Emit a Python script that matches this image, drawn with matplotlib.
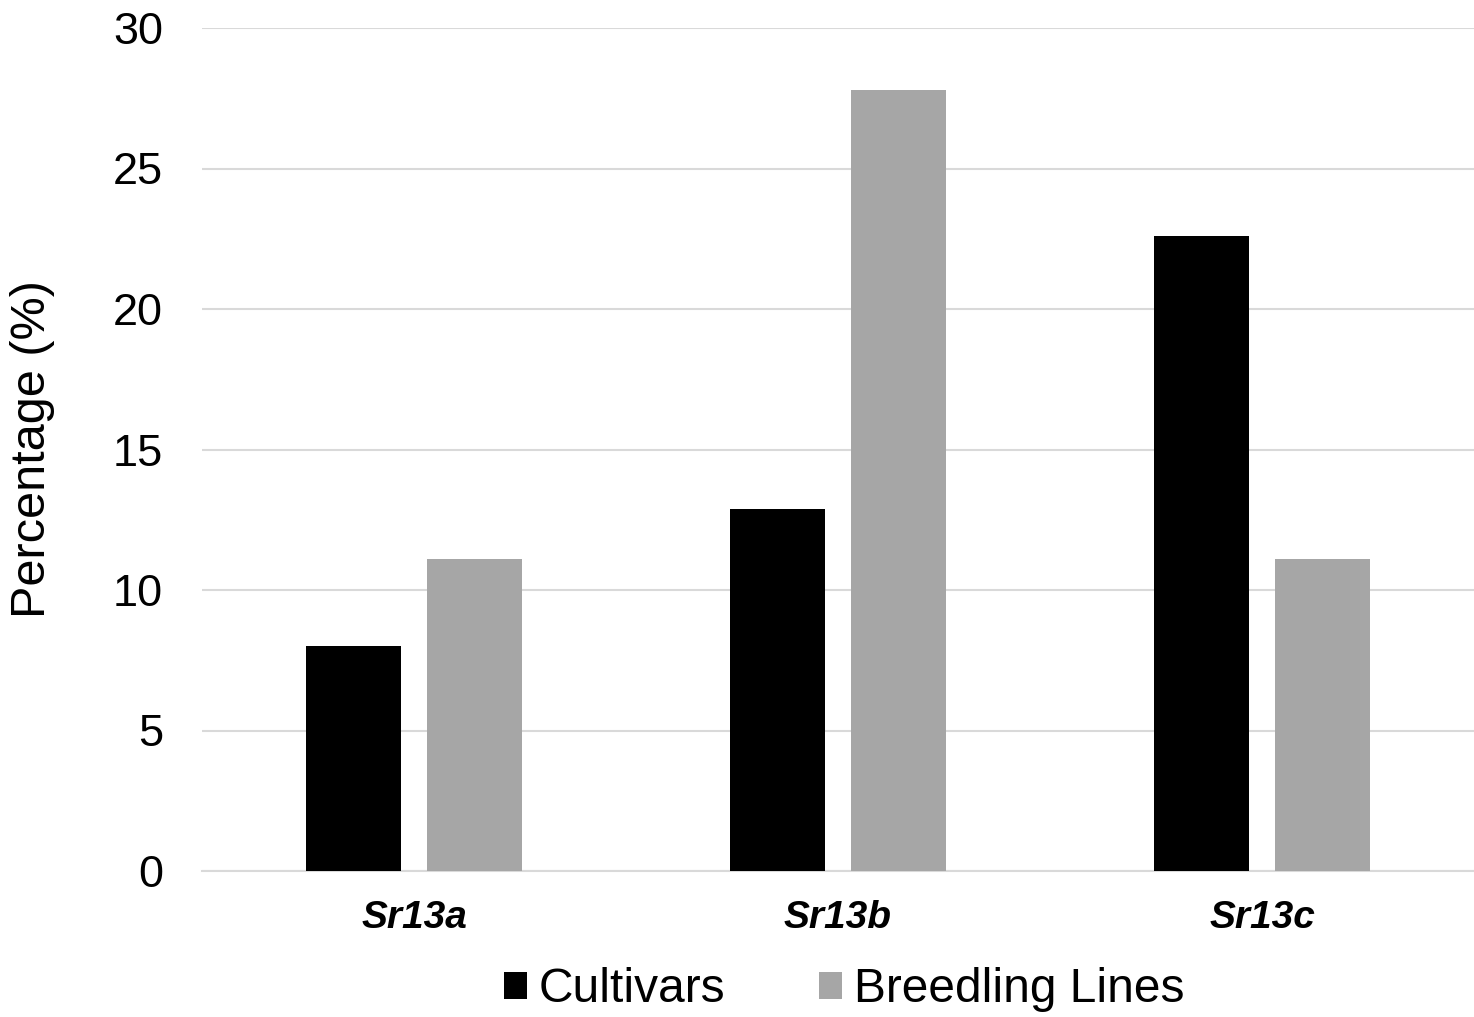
import numpy as np
import matplotlib
matplotlib.use("Agg")
import matplotlib.pyplot as plt

plt.rcParams['font.family'] = ['Liberation Sans', 'DejaVu Sans']

# data
genes = ['Sr13a', 'Sr13b', 'Sr13c']
cultivars = [8.0, 12.9, 22.6]
breeding = [11.1, 27.8, 11.1]
y_ticks = [0, 5, 10, 15, 20, 25, 30]

fig = plt.figure(figsize=(14.74, 10.17), dpi=100)
ax = fig.add_axes([202/1474, 1-871/1017, 1272/1474, (871-28)/1017])

x = np.arange(len(genes))
w = 0.224
off = 0.143
ax.bar(x - off, cultivars, w, color='black', label='Cultivars', zorder=3)
ax.bar(x + off, breeding, w, color='#a6a6a6', label='Breedling Lines', zorder=3)

ax.set_xlim(-0.5, 2.5)
ax.set_ylim(0, 30)
ax.set_yticks(y_ticks)
ax.set_xticks(x)
ax.set_xticklabels(genes, fontsize=28, fontweight='bold', fontstyle='italic')
ax.tick_params(axis='y', labelsize=32.5, length=0, pad=28)
ax.tick_params(axis='x', length=0, pad=21)
ax.grid(axis='y', color='#d9d9d9', linewidth=1.5, zorder=0)
for s in ['top', 'right', 'left']:
    ax.spines[s].set_visible(False)
ax.spines['bottom'].set_color('#d9d9d9')
ax.spines['bottom'].set_linewidth(1.5)
ax.set_ylabel('Percentage (%)', fontsize=35, labelpad=42)

fig.legend(loc='center', bbox_to_anchor=(844/1474, 1-990/1017), ncol=2,
           frameon=False, fontsize=34.5, handlelength=0.48, handleheight=0.48,
           handletextpad=0.25, columnspacing=1.95, borderpad=0.1)

fig.savefig('out.png', dpi=100)
